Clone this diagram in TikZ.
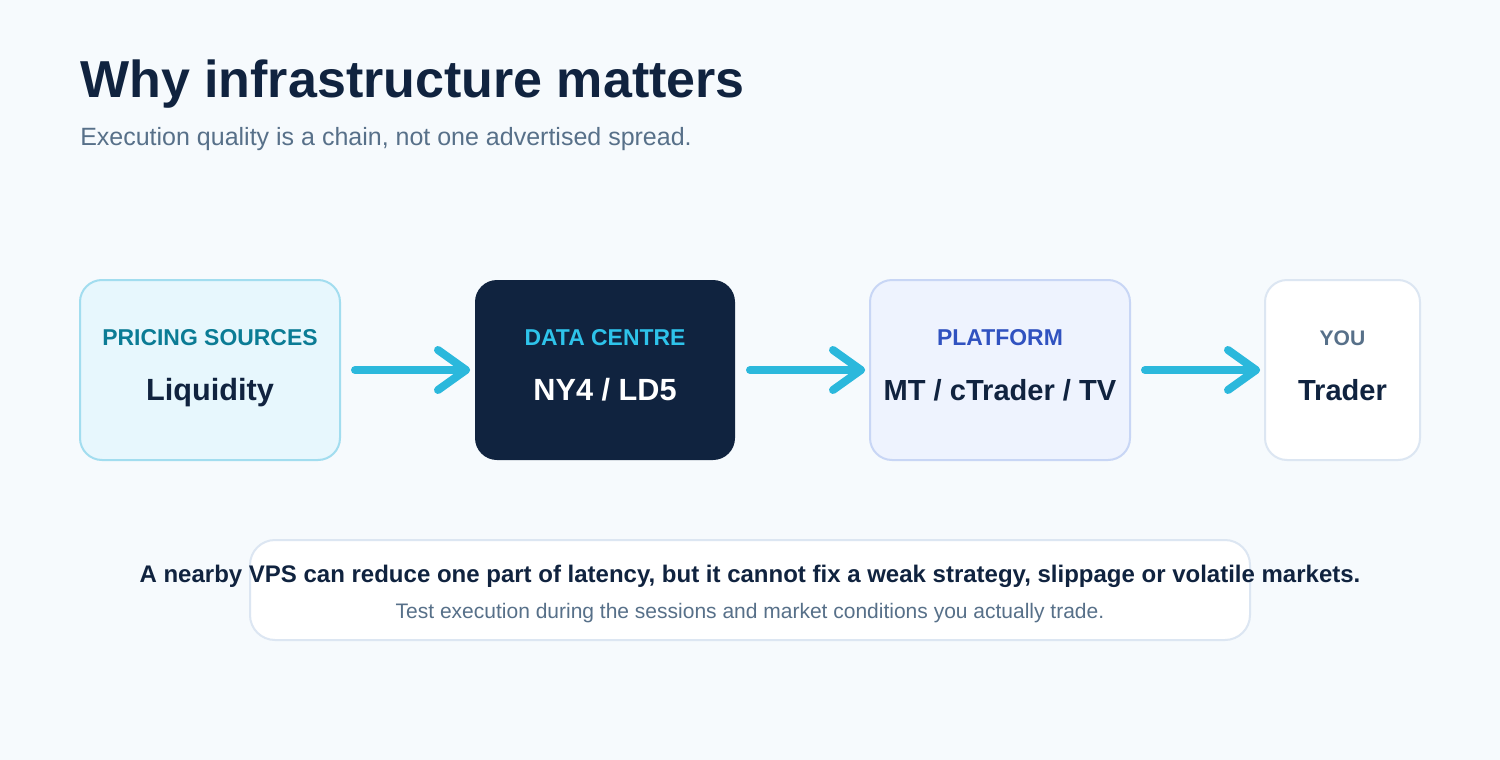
\documentclass[tikz,border=0pt]{standalone}
\usepackage{fontspec}
\setmainfont{Liberation Sans}
\usetikzlibrary{calc}
\definecolor{bg}{HTML}{F6FAFD}
\definecolor{navy}{HTML}{10233F}
\definecolor{slate}{HTML}{577089}
\definecolor{teal}{HTML}{0B7C95}
\definecolor{cyanA}{HTML}{2BB8DC}
\definecolor{cyanT}{HTML}{2EC3EA}
\definecolor{blueT}{HTML}{3052C0}
\definecolor{b1fill}{HTML}{E7F7FD}
\definecolor{b1line}{HTML}{A2DDEF}
\definecolor{b3fill}{HTML}{EEF3FE}
\definecolor{b3line}{HTML}{C8D6F5}
\definecolor{b4line}{HTML}{DCE6F2}
\tikzset{
  card/.style={rounded corners=22*0.75pt, line width=1.5pt},
  kicker/.style={font=\bfseries\fontsize{17.2}{20}\selectfont, anchor=base},
  big/.style={font=\bfseries\fontsize{23}{27}\selectfont, anchor=base},
  bigs/.style={font=\bfseries\fontsize{21.8}{26}\selectfont, anchor=base},
  flow/.style={cyanA, line width=6pt, line cap=round, line join=round},
}
\begin{document}
\begin{tikzpicture}[x=0.75pt,y=-0.75pt]
\fill[bg] (0,0) rectangle (1500,760);
\useasboundingbox (0,0) rectangle (1500,760);
% title
\node[anchor=base west, inner sep=0, text=navy, font=\bfseries\fontsize{39}{45}\selectfont] (title) at (80,97) {Why infrastructure matters};
\node[anchor=base west, inner sep=0, text=slate, font=\fontsize{18.75}{22}\selectfont] (sub) at (80,145) {Execution quality is a chain, not one advertised spread.};
% cards
\draw[card, fill=b1fill, draw=b1line] (80,280) rectangle (340,460);
\node (c1) at (210,370) {};
\fill[card, fill=navy] (475,280) rectangle (735,460);
\node (c2) at (605,370) {};
\draw[card, fill=b3fill, draw=b3line] (870,280) rectangle (1130,460);
\node (c3) at (1000,370) {};
\draw[card, fill=white, draw=b4line] (1265,280) rectangle (1420,460);
\node (c4) at (1342.5,370) {};
% texts
\node[kicker, text=teal] (k1) at (210,345) {PRICING SOURCES};
\node[big, text=navy] (v1) at (210,400) {Liquidity};
\node[kicker, text=cyanT] (k2) at (605,345) {DATA CENTRE};
\node[big, text=white] (v2) at (605,400) {NY4 / LD5};
\node[kicker, text=blueT] (k3) at (1000,345) {PLATFORM};
\node[bigs, text=navy] (v3) at (1000,400) {MT / cTrader / TV};
\node[kicker, text=slate, font=\bfseries\fontsize{15.8}{19}\selectfont] (k4) at (1342.5,345) {YOU};
\node[bigs, text=navy] (v4) at (1342.5,400) {Trader};
% arrows
\coordinate (a1s) at (355,370); \coordinate (a1e) at (466,370);
\coordinate (a2s) at (750,370); \coordinate (a2e) at (861,370);
\coordinate (a3s) at (1145,370); \coordinate (a3e) at (1256,370);
\foreach \s/\e in {a1s/a1e,a2s/a2e,a3s/a3e}{
  \draw[flow] (\s) -- (\e);
  \draw[flow] ($(\e)+(-28,-20)$) -- (\e) -- ($(\e)+(-28,20)$);
}
% bottom note
\draw[rounded corners=25*0.75pt, line width=1.5pt, fill=white, draw=b4line] (250,540) rectangle (1250,640);
\node[anchor=base, inner sep=0, text=navy, font=\bfseries\fontsize{18}{22}\selectfont] (n1) at (750,582) {A nearby VPS can reduce one part of latency, but it cannot fix a weak strategy, slippage or volatile markets.};
\node[anchor=base, inner sep=0, text=slate, font=\fontsize{15.75}{19}\selectfont] (n2) at (750,618) {Test execution during the sessions and market conditions you actually trade.};
\end{tikzpicture}
\end{document}
